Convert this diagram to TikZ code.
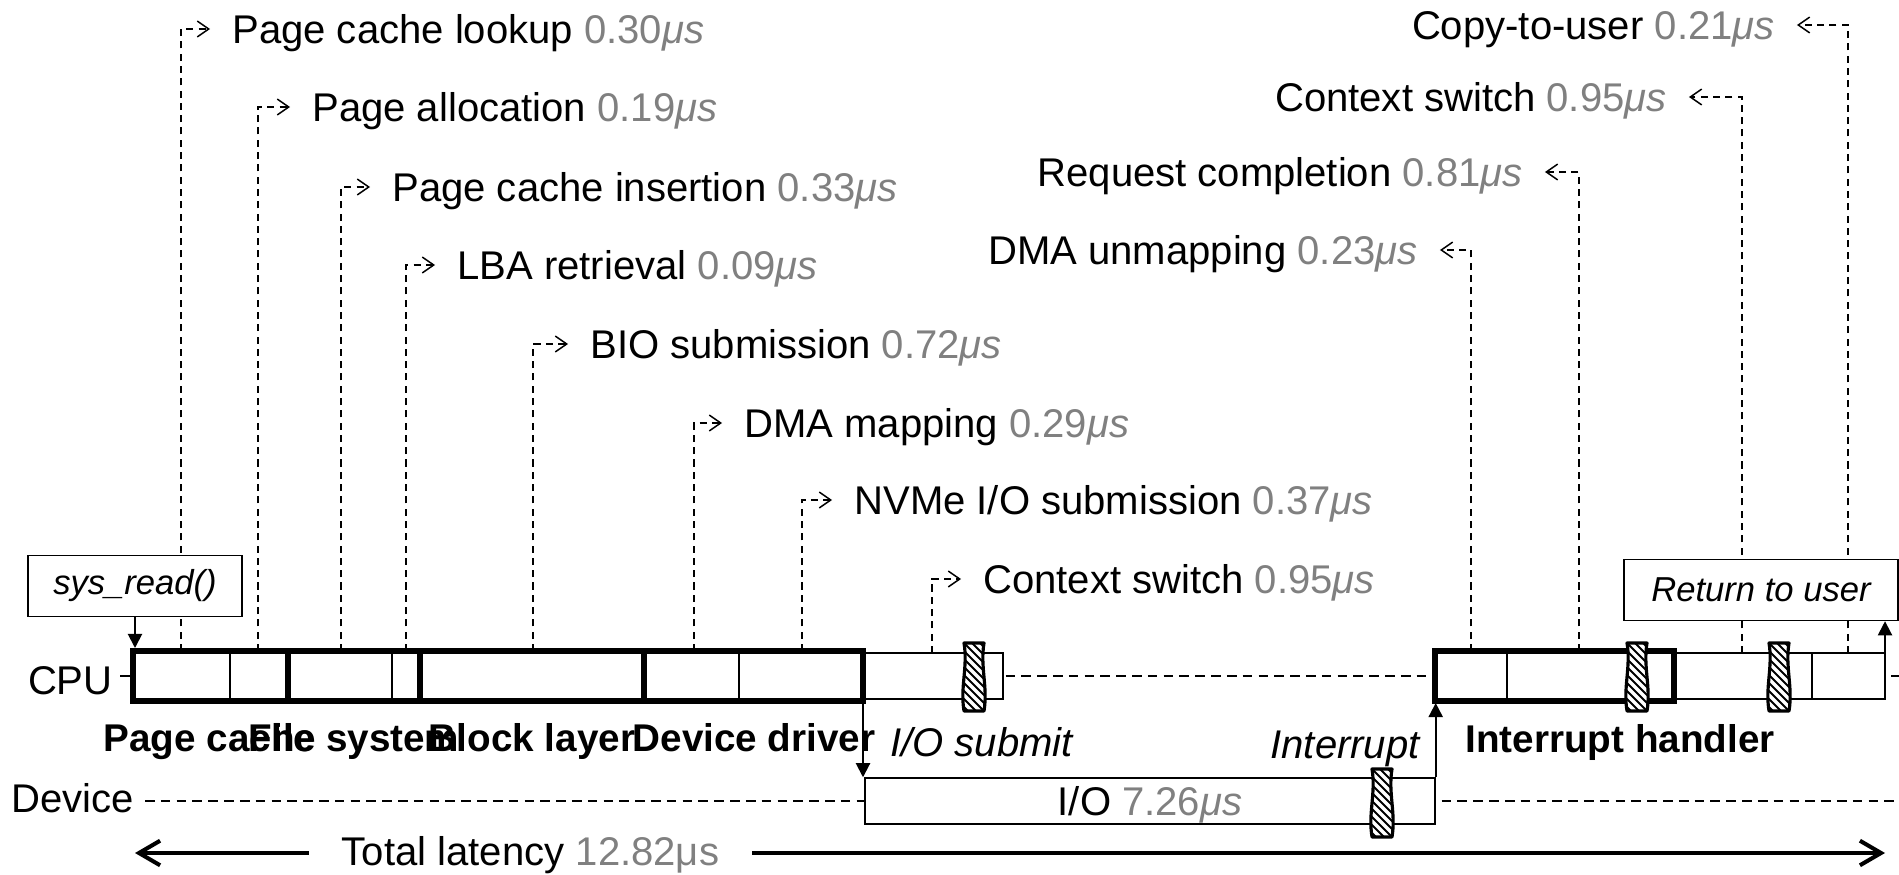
\documentclass[tikz,border=0pt]{standalone}
\usepackage{fontspec}
\setmainfont{Liberation Sans}
\usetikzlibrary{arrows.meta}

\definecolor{usgray}{RGB}{128,128,128}
\newcommand{\us}[1]{\textcolor{usgray}{#1\textit{μs}}}
\newcommand{\cutpath}{(-10,-34) -- (10,-34) .. controls (6,-10) and (14,10) .. (10,34)
        -- (-10,34) .. controls (-14,10) and (-6,-10) .. (-10,-34) -- cycle}

\begin{document}
\begin{tikzpicture}[x=0.02cm,y=-0.02cm,
    txt/.style={font=\fontsize{22.8pt}{27pt}\selectfont,inner sep=0pt,text height=16.3pt,text depth=0pt},
    ital/.style={txt,font=\fontsize{22.8pt}{27pt}\selectfont\itshape},
    layer/.style={txt,font=\fontsize{22pt}{26pt}\selectfont\bfseries,text height=15.8pt},
    note/.style={line width=0.85pt,dash pattern=on 4pt off 3pt,shorten >=12.5pt,
        -{Straight Barb[length=6.5pt,width=9pt]}},
    ptr/.style={line width=1.1pt,-{Triangle[length=8pt,width=8pt]}},
    timeline/.style={line width=0.85pt,dash pattern=on 5.5pt off 3.5pt},
    seg/.style={draw,line width=0.85pt,fill=white},
    thk/.style={draw,line width=3.1pt},
    callbox/.style={draw,line width=0.85pt,fill=white,inner sep=0pt,
        font=\fontsize{19.7pt}{23pt}\selectfont\itshape,minimum height=1.22cm},
    latarrow/.style={line width=2.3pt,-{Straight Barb[length=12pt,width=14pt]}},
    cutmark/.pic={
        \fill[white] \cutpath;
        \begin{scope}
            \clip \cutpath;
            \foreach \k in {-64,-56,...,64} \draw[line width=1.1pt] (-14,\k-14) -- (14,\k+14);
        \end{scope}
        \draw[line width=1.8pt,line join=round] \cutpath;}]
    \useasboundingbox (0,0) rectangle (1899,875);

    % CPU and device time lines
    \node[txt,anchor=east] (cpu) at (113,680) {CPU};
    \node[txt,anchor=east] (dev) at (134,798) {Device};
    \draw[timeline] (120,676) -- (1899,676);
    \draw[timeline] (145,801) -- (1899,801);

    % breakdown before the I/O
    \foreach \x/\y/\b/\s/\txt/\val [count=\i] in {
        181/29/651/232/Page cache lookup/0.30,
        258/107/651/312/Page allocation/0.19,
        341/187/651/392/Page cache insertion/0.33,
        406/265/651/457/LBA retrieval/0.09,
        533/344/651/590/BIO submission/0.72,
        694/423/651/744/DMA mapping/0.29,
        802/500/651/854/{NVMe I/O submission}/0.37,
        932/579/653/983/Context switch/0.95}{
        \node[txt,anchor=west] (in\i) at (\s,\y) {\txt{} \us{\val}};
        \draw[note] (\x,\b) |- (in\i.west);
    }

    % breakdown after the I/O
    \foreach \x/\y/\b/\s/\txt/\val [count=\i] in {
        1848/25/653/1775/Copy-to-user/0.21,
        1742/97/653/1667/Context switch/0.95,
        1579/172/651/1523/Request completion/0.81,
        1471/250/651/1418/DMA unmapping/0.23}{
        \node[txt,anchor=east] (out\i) at (\s,\y) {\txt{} \us{\val}};
        \draw[note] (\x,\b) |- (out\i.east);
    }

    % CPU bar
    \draw[seg] (863,653) rectangle (1003,699);
    \draw[seg] (1674,653) rectangle (1885,699);
    \draw[line width=0.85pt] (1812,653) -- (1812,699);
    \draw[thk,fill=white] (133,651) rectangle (863,701);
    \foreach \d in {230,392,739} \draw[line width=0.85pt] (\d,651) -- (\d,701);
    \foreach \d in {288,420,644} \draw[thk] (\d,651) -- (\d,701);
    \draw[thk,fill=white] (1435,651) rectangle (1674,701);
    \draw[line width=0.85pt] (1507,651) -- (1507,701);
    \coordinate (cpu0) at (133,648);
    \coordinate (drv) at (863,703);
    \coordinate (irq) at (1435,703);
    \coordinate (endc) at (1885,653);

    % device
    \node[seg,txt,minimum width=11.4cm,minimum height=0.92cm] (io) at (1150,801) {I/O \us{7.26}};

    \pic at (974,677) {cutmark};
    \pic at (1637,677) {cutmark};
    \pic at (1779,677) {cutmark};
    \pic at (1382,803) {cutmark};

    % layer names
    \node[layer] (pc) at (210,738) {Page cache};
    \node[layer] (fs) at (354,738) {File system};
    \node[layer] (bl) at (532,738) {Block layer};
    \node[layer] (dd) at (754,738) {Device driver};
    \node[layer] (ih) at (1620,739) {Interrupt handler};

    % events
    \node[callbox,minimum width=4.28cm] (sysread) at (135,586) {sys\_read()};
    \draw[ptr] (sysread.south) -- (sysread.south |- cpu0);
    \node[callbox,minimum width=5.48cm] (ret) at (1761,590) {Return to user};
    \draw[ptr] (endc) -- (endc |- ret.south);
    \draw[ptr] (drv) -- (drv |- io.north);
    \node[ital,anchor=west] (sub) at (890,742) {I/O submit};
    \draw[ptr] (io.north east) -- (io.north east |- irq);
    \node[ital,anchor=east] (intr) at (1420,744) {Interrupt};

    % total latency
    \node[txt,inner xsep=0.66cm] (tot) at (530.5,851) {Total latency \textcolor{usgray}{12.82μs}};
    \coordinate (tl) at (135,853);
    \coordinate (tr) at (1885,853);
    \draw[latarrow] (tot.west |- tl) -- (tl);
    \draw[latarrow] (tot.east |- tr) -- (tr);
\end{tikzpicture}
\end{document}
